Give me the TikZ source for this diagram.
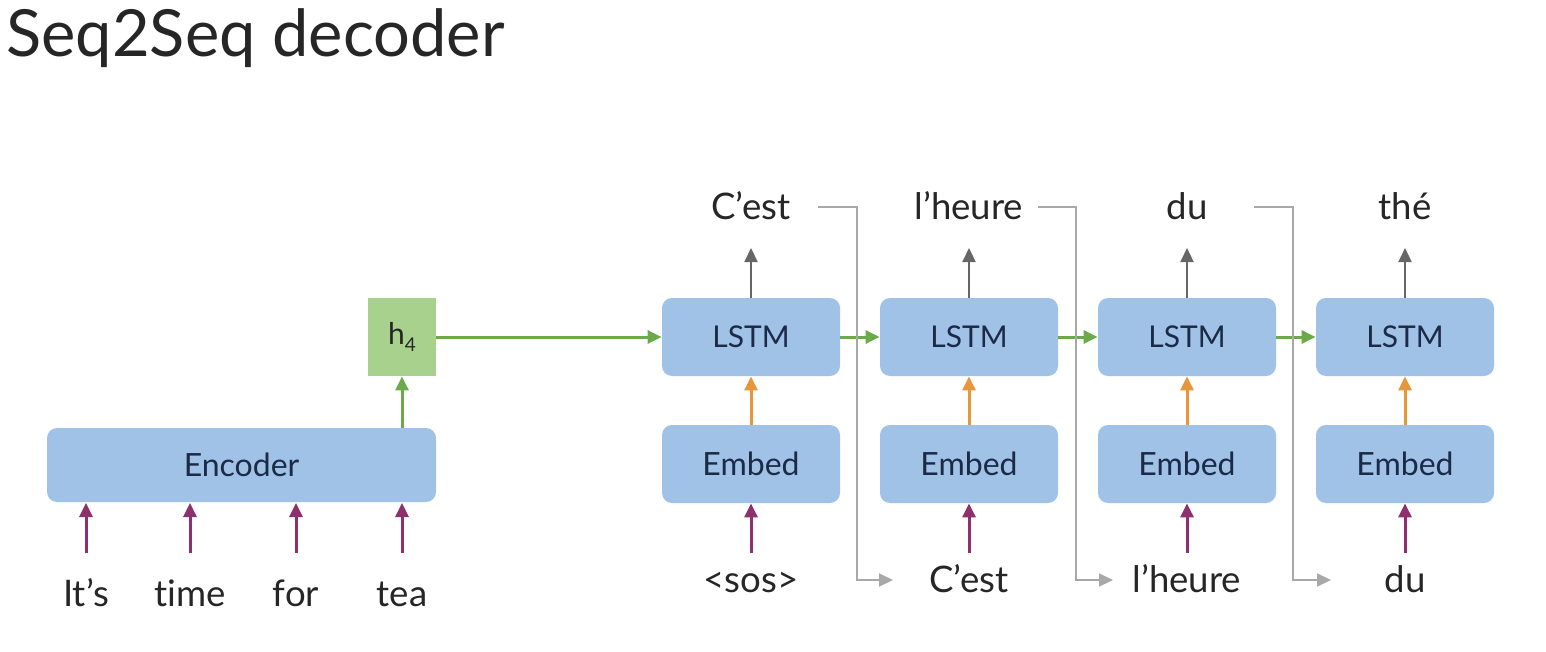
\documentclass[tikz,border=0pt]{standalone}
\usepackage{fontspec}
\setmainfont{Lato}[Ligatures={NoCommon,NoRare}]
\usetikzlibrary{arrows.meta,positioning}
\definecolor{boxblue}{HTML}{9FC2E6}
\definecolor{boxgreen}{HTML}{A9D18E}
\definecolor{txtblue}{HTML}{1B2A47}
\definecolor{arrgreen}{HTML}{6AAA4A}
\definecolor{arrorange}{HTML}{E8963A}
\definecolor{arrpurple}{HTML}{8E2F6E}
\definecolor{arrgray}{HTML}{666666}
\definecolor{linegray}{HTML}{A8A8A8}
\tikzset{
  blk/.style={fill=boxblue, rounded corners=5pt, minimum width=89pt, minimum height=39pt, inner sep=0pt, text=txtblue, font=\fontsize{16}{18}\selectfont},
  lblk/.style={blk, font=\fontsize{15}{17}\selectfont},
  enc/.style={blk, minimum width=194.5pt, minimum height=37pt},
  hbox/.style={fill=boxgreen, minimum width=34pt, minimum height=39pt, inner sep=0pt, text=black!85, font=\fontsize{15}{17}\selectfont},
  word/.style={inner sep=0pt, text=black!85, font=\fontsize{18.3}{21}\selectfont, anchor=base},
  tip/.style={-{Triangle[length=7pt, width=6.5pt]}},
  garr/.style={draw=arrgreen, fill=arrgreen, line width=1.5pt, tip},
  oarr/.style={draw=arrorange, line width=1.5pt, tip},
  parr/.style={draw=arrpurple, line width=1.5pt, tip},
  uarr/.style={draw=arrgray, line width=1.1pt, tip},
  elb/.style={draw=linegray, line width=1pt, tip},
}
\begin{document}
\begin{tikzpicture}[x=0.5pt,y=-0.5pt]
\useasboundingbox (0,0) rectangle (1546,652);
\node[anchor=base west, inner sep=0pt, text=black!85, font=\fontsize{32.5}{36}\selectfont] (title) at (6,57) {Seq2Seq decoder};

% encoder
\node[enc] (enc) at (241.5,465) {Encoder};
\node[hbox] (h4) at (402,337) {h\raisebox{-0.5ex}{\fontsize{9.5}{10}\selectfont 4}};
\draw[garr] (enc.north -| h4) -- (h4.south);

\foreach \x/\w/\n in {86/It’s/a,190/time/b,296/for/c,402/tea/d}{
  \node[word] (in\n) at (\x,606) {\w};
  \coordinate (is\n) at (\x,553);
  \draw[parr] (is\n) -- (\x,503);
}

% decoder
\foreach \x/\i in {751/1,969/2,1187/3,1405/4}{
  \node[lblk] (lstm\i) at (\x,337) {LSTM};
  \node[blk] (emb\i) at (\x,464) {Embed};
  \draw[oarr] (emb\i.north) -- (lstm\i.south);
  \coordinate (bs\i) at (\x,553);
  \draw[parr] (bs\i) -- (emb\i.south);
}
\foreach \x/\w/\i in {751/C’est/1,969/l’heure/2,1187/du/3,1405/thé/4}{
  \node[word] (out\i) at (\x,220) {\w};
  \coordinate (ot\i) at (\x,248);
  \draw[uarr] (lstm\i.north) -- (ot\i);
}
\foreach \x/\w/\i in {751/{<}sos{>}/1,969/C’est/2,1187/l’heure/3,1405/du/4}{
  \node[word] (bin\i) at (\x,592) {\w};
}

\draw[garr] (h4.east) -- (lstm1.west);
\draw[garr] (lstm1.east) -- (lstm2.west);
\draw[garr] (lstm2.east) -- (lstm3.west);
\draw[garr] (lstm3.east) -- (lstm4.west);

% feedback elbows
\coordinate (e1) at (818,207); \coordinate (f1) at (893,580);
\coordinate (e2) at (1038,207); \coordinate (f2) at (1113,580);
\coordinate (e3) at (1254,207); \coordinate (f3) at (1331,580);
\draw[elb] (e1) -- (857,207) -- (857,580) -- (f1);
\draw[elb] (e2) -- (1076,207) -- (1076,580) -- (f2);
\draw[elb] (e3) -- (1293,207) -- (1293,580) -- (f3);
\end{tikzpicture}
\end{document}
